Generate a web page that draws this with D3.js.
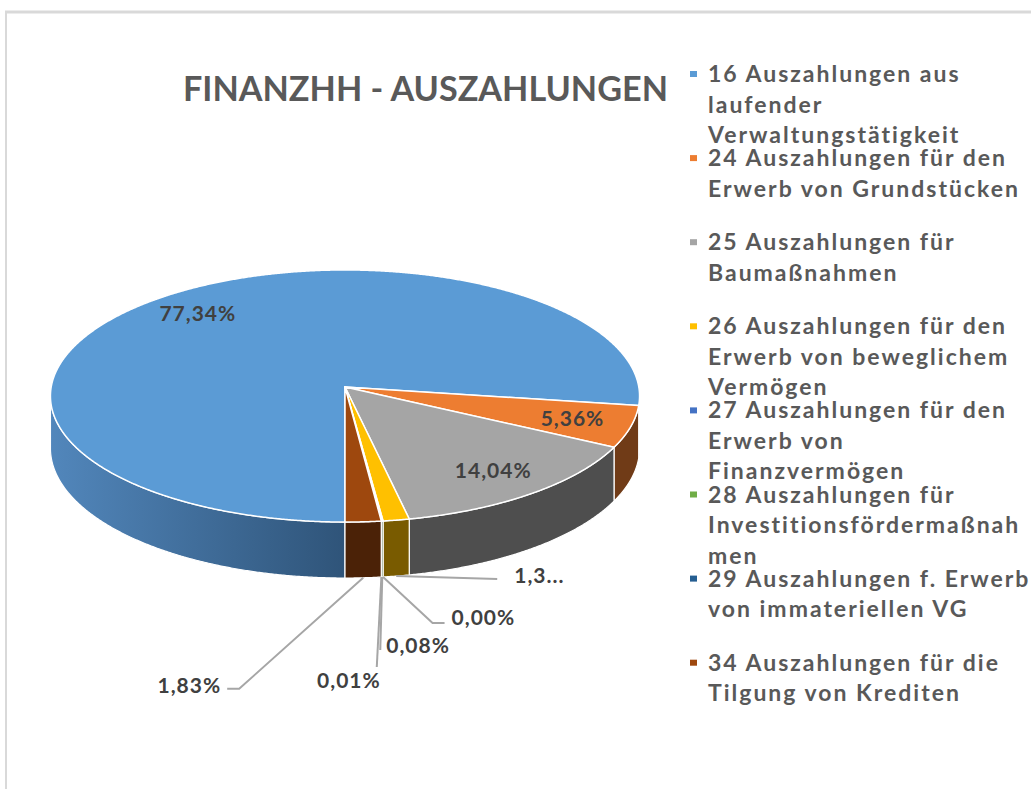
<!DOCTYPE html>
<html>
<head>
<meta charset="utf-8">
<script src="https://cdn.jsdelivr.net/npm/d3@7"></script>
<style>
  html, body { margin: 0; padding: 0; background: #ffffff; }
  svg { display: block; }
</style>
</head>
<body>
<svg id="chart" width="1031" height="789"></svg>
<script>
// ---------------- DATA ----------------
const title = "FINANZHH - AUSZAHLUNGEN";
const categories = [
  "16 Auszahlungen aus\nlaufender\nVerwaltungstätigkeit",
  "24 Auszahlungen für den\nErwerb von Grundstücken",
  "25 Auszahlungen für\nBaumaßnahmen",
  "26 Auszahlungen für den\nErwerb von beweglichem\nVermögen",
  "27 Auszahlungen für den\nErwerb von\nFinanzvermögen",
  "28 Auszahlungen für\nInvestitionsfördermaßnah\nmen",
  "29 Auszahlungen f. Erwerb\nvon immateriellen VG",
  "34 Auszahlungen für die\nTilgung von Krediten"
];
const values = [77.34, 5.36, 14.04, 1.34, 0.00, 0.08, 0.01, 1.83];
const valueLabels = ["77,34%", "5,36%", "14,04%", "1,3...", "0,00%", "0,08%", "0,01%", "1,83%"];
const colors = ["#5B9BD5", "#ED7D31", "#A5A5A5", "#FFC000", "#4472C4", "#70AD47", "#255E91", "#9E480E"];

// ---------------- STYLE / LAYOUT ----------------
const svg = d3.select("#chart");
const fontFam = "Lato, 'Open Sans', sans-serif";
const textColor = "#595959";
const labelColor = "#404040";

// 3D pie projection parameters (perspective-like homography)
const P = { cx: 345, cy: 387, W: 293.8, B: 125.4, c: 0.0714, H: 52 };
const startAngle = Math.PI;      // first slice starts at 6 o'clock, clockwise
function project(a, r, z) {
  const u = Math.sin(a) * r, v = -Math.cos(a) * r;
  const d = 1 - P.c * v;
  return [P.cx + P.W * u / d, P.cy + (P.B * v + z * P.H) / d];
}

// frame
svg.append("line").attr("x1", 5).attr("y1", 12).attr("x2", 1031).attr("y2", 12)
  .attr("stroke", "#d9d9d9").attr("stroke-width", 3);
svg.append("line").attr("x1", 6).attr("y1", 12).attr("x2", 6).attr("y2", 789)
  .attr("stroke", "#d9d9d9").attr("stroke-width", 2);

// gradient for blue side
const defs = svg.append("defs");
const grad = defs.append("linearGradient").attr("id", "blueSide")
  .attr("gradientUnits", "userSpaceOnUse").attr("x1", 48).attr("x2", 345).attr("y1", 0).attr("y2", 0);
grad.append("stop").attr("offset", 0).attr("stop-color", "#5287bc");
grad.append("stop").attr("offset", 1).attr("stop-color", "#2f5479");

const sideFill = (i) => i === 0 ? "url(#blueSide)" : d3.rgb(colors[i]).darker(2.1).formatHex();

// pie layout through d3
const pie = d3.pie().sort(null).value(d => d).startAngle(startAngle).endAngle(startAngle + 2 * Math.PI);
const arcs = pie(values);

// visible side range (silhouette where x is extreme)
const aSil = Math.acos(-P.c);               // right silhouette
const visRanges = [[aSil, 2 * Math.PI - aSil], [aSil + 2 * Math.PI, 4 * Math.PI - aSil]];

function arcPts(a0, a1, r, z) {
  const n = Math.max(2, Math.ceil(Math.abs(a1 - a0) / 0.005));
  const pts = [];
  for (let k = 0; k <= n; k++) pts.push(project(a0 + (a1 - a0) * k / n, r, z));
  return pts;
}
const line = d3.line();

// sides
const gSide = svg.append("g");
arcs.forEach((d, i) => {
  visRanges.forEach(([v0, v1]) => {
    const a0 = Math.max(d.startAngle, v0), a1 = Math.min(d.endAngle, v1);
    if (a1 - a0 <= 0.0005) return;
    const pts = arcPts(a0, a1, 1, 0).concat(arcPts(a1, a0, 1, 1));
    gSide.append("path").attr("d", line(pts) + "Z")
      .attr("fill", sideFill(i)).attr("stroke", "#ffffff").attr("stroke-width", 1.2)
      .attr("stroke-linejoin", "round");
  });
});

// tops
const gTop = svg.append("g");
arcs.forEach((d, i) => {
  if (d.endAngle - d.startAngle <= 0) return;
  const pts = [project(0, 0, 0)].concat(arcPts(d.startAngle, d.endAngle, 1, 0));
  gTop.append("path").attr("d", line(pts) + "Z")
    .attr("fill", colors[i]).attr("stroke", "#ffffff").attr("stroke-width", 1.5)
    .attr("stroke-linejoin", "round");
});

// data labels
const labelFont = 21;
const leaderLayout = {
  3: { ex: 101, ey: 3, hx: 0, tx: 118, ty: 7, anchor: "start" },
  4: { ex: 49.5, ey: 46, hx: 12, tx: 68.5, ty: 48, anchor: "start" },
  5: { ex: -2, ey: 73, hx: 0, tx: 4, ty: 76, anchor: "start" },
  6: { ex: -4.6, ey: 90, hx: 0, tx: -0.6, ty: 111, anchor: "end" },
  7: { ex: -124, ey: 111, hx: -12, tx: -142, ty: 115, anchor: "end" }
};
const gLab = svg.append("g").attr("font-family", fontFam).attr("font-weight", 700)
  .attr("font-size", labelFont).attr("fill", labelColor).attr("letter-spacing", 1);
arcs.forEach((d, i) => {
  const mid = (d.startAngle + d.endAngle) / 2;
  const L = leaderLayout[i];
  if (!L) {
    const [x, y] = project(mid, 0.8, 0);
    gLab.append("text").attr("x", x).attr("y", y + 7).attr("text-anchor", "middle").text(valueLabels[i]);
  } else {
    const [ax, ay] = project(mid, 1, 1);
    const pts = [[ax, ay], [ax + L.ex, ay + L.ey]];
    if (L.hx) pts.push([ax + L.ex + L.hx, ay + L.ey]);
    svg.append("path").attr("d", line(pts)).attr("fill", "none")
      .attr("stroke", "#a6a6a6").attr("stroke-width", 2);
    gLab.append("text").attr("x", ax + L.tx).attr("y", ay + L.ty)
      .attr("text-anchor", L.anchor).text(valueLabels[i]);
  }
});

// title
svg.append("text").attr("x", 183).attr("y", 101)
  .attr("font-family", fontFam).attr("font-weight", 700).attr("font-size", 34)
  .attr("fill", textColor).attr("textLength", 485).attr("lengthAdjust", "spacingAndGlyphs")
  .text(title);

// legend
const legX = 708, legY0 = 82, legStep = 84.1, lineH = 30.5, legFont = 23;
const gLeg = svg.append("g").attr("font-family", fontFam).attr("font-weight", 700)
  .attr("font-size", legFont).attr("fill", textColor);
// fit letter spacing so that a reference line spans the reference width
const probe = gLeg.append("text").text("Erwerb von Grundstücken");
const natW = probe.node().getComputedTextLength();
probe.remove();
const ls = Math.max(0, (310 - natW) / 22);
gLeg.attr("letter-spacing", ls);
categories.forEach((cat, i) => {
  const y0 = legY0 + i * legStep;
  gLeg.append("rect").attr("x", 690).attr("y", y0 - 11).attr("width", 7).attr("height", 6)
    .attr("fill", colors[i]);
  cat.split("\n").forEach((ln, k) => {
    gLeg.append("text").attr("x", legX).attr("y", y0 + k * lineH).text(ln);
  });
});
</script>
</body>
</html>
